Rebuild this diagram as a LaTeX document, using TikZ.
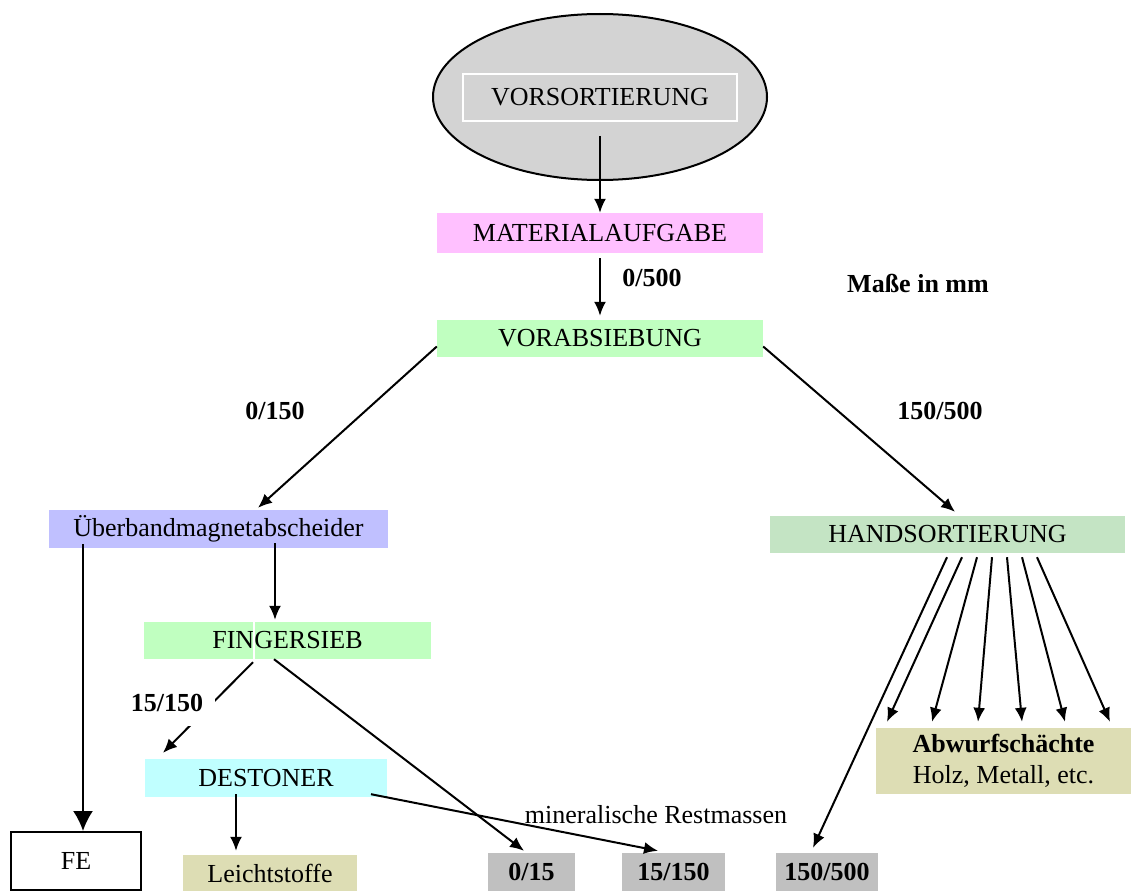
\documentclass[tikz,border=0pt]{standalone}
\usepackage{fontspec}
\setmainfont{Liberation Serif}
\usetikzlibrary{arrows.meta, shapes.geometric}
\definecolor{ovalgray}{RGB}{211,211,211}
\definecolor{matpink}{RGB}{255,192,255}
\definecolor{siebgreen}{RGB}{192,255,192}
\definecolor{magblue}{RGB}{192,192,255}
\definecolor{handgreen}{RGB}{196,228,196}
\definecolor{destcyan}{RGB}{192,255,255}
\definecolor{khaki}{RGB}{221,221,180}
\definecolor{fracgray}{RGB}{192,192,192}

\begin{document}
\begin{tikzpicture}[
    x=1pt, y=-1pt,
    every node/.style={font=\fontsize{26}{31}\selectfont},
    % Styles
    stage/.style={% For the coloured process boxes
        rectangle,
        inner sep=0pt,
        minimum height=37pt,
        },
    fraction/.style={% For the grey output fractions
        rectangle,
        fill=fracgray,
        inner sep=0pt,
        minimum height=38pt,
        font=\fontsize{26}{31}\selectfont\bfseries,
        },
    size/.style={% For the grain size labels
        inner sep=0pt,
        font=\fontsize{26}{31}\selectfont\bfseries,
        },
    ArrowS/.style={% Small arrows
        line width=2pt,
        -{Latex[length=14pt, width=12pt]},
        },
    ArrowB/.style={% Big arrows
        line width=2pt,
        -{Latex[length=20pt, width=20pt]},
        },
    ]
    \useasboundingbox (0,0) rectangle (1131,891);

    % Pre-sorting oval
    \node [ellipse, draw, line width=2pt, fill=ovalgray, minimum width=334pt, minimum height=166pt, inner sep=0pt] (vors) at (600,97) {};
    \node [stage, draw=white, line width=1.5pt, fill=ovalgray, minimum width=274pt, minimum height=47pt] (vorsbox) at (600,97.5) {VORSORTIERUNG};

    % Main line
    \node [stage, fill=matpink, minimum width=326pt, minimum height=40pt] (mat) at (600,233) {MATERIALAUFGABE};
    \node [stage, fill=siebgreen, minimum width=326pt] (vorab) at (600,338.5) {VORABSIEBUNG};

    % Left branch
    \node [stage, fill=magblue, minimum width=339pt, minimum height=38pt] (ueber) at (218.5,529) {Überbandmagnetabscheider};
    \node [stage, fill=siebgreen, minimum width=287pt] (finger) at (287.5,640.5) {FINGERSIEB};
    \node [stage, fill=destcyan, minimum width=242pt, minimum height=38pt] (dest) at (266,778) {DESTONER};

    % Right branch
    \node [stage, fill=handgreen, minimum width=355pt] (hand) at (947.5,534.5) {HANDSORTIERUNG};
    \node [stage, fill=khaki, minimum width=255pt, minimum height=66pt, align=center] (abw) at (1003.5,761) {\textbf{Abwurfschächte}\\Holz, Metall, etc.};

    % Outputs
    \node [stage, draw, line width=2pt, minimum width=130pt, minimum height=58pt] (fe) at (76,861) {FE};
    \node [stage, fill=khaki, minimum width=174pt, minimum height=36pt] (leicht) at (270,873) {Leichtstoffe};
    \node [fraction, minimum width=87pt] (f015) at (531.5,872) {0/15};
    \node [fraction, minimum width=103pt] (f15150) at (673.5,872) {15/150};
    \node [fraction, minimum width=102pt] (f150500) at (827,872) {150/500};

    % Labels
    \node [size] (l0500) at (652,278) {0/500};
    \node [size] (lmass) at (918,283) {Maße in mm};
    \node [size] (l0150) at (275,411) {0/150};
    \node [size] (l150500) at (940,411) {150/500};
    \node [inner sep=0pt] (lmin) at (656,815) {mineralische Restmassen};

    % Arrows
    \draw [ArrowS] ([yshift=-14pt]vorsbox.south) -- (mat.north);
    \draw [ArrowS] ([yshift=-5pt]mat.south) -- ([yshift=4pt]vorab.north);
    \draw [ArrowS] ([yshift=-8pt]vorab.west) -- ([xshift=39.5pt, yshift=2pt]ueber.north);
    \draw [ArrowS] ([yshift=-8pt]vorab.east) -- ([xshift=7.5pt, yshift=4pt]hand.north);

    % magnet separator
    \draw [ArrowB] ([xshift=-135.5pt, yshift=4pt]ueber.south) -- ([xshift=7pt]fe.north);
    \draw [ArrowS] ([xshift=56.5pt, yshift=5pt]ueber.south) -- ([xshift=-12.5pt, yshift=2pt]finger.north);

    % finger screen
    \draw [white, line width=1.5pt] ([xshift=-33.5pt]finger.north) -- ([xshift=-33.5pt]finger.south);
    \draw [ArrowS] ([xshift=-34.5pt, yshift=-3pt]finger.south) -- ([xshift=-103pt, yshift=6pt]dest.north);
    \node [size, fill=white, minimum width=96pt, minimum height=46pt] (l15150) at (167,703) {15/150};
    \draw [ArrowS] ([xshift=-13.5pt]finger.south) -- ([xshift=-7.5pt, yshift=2pt]f015.north);

    % destoner
    \draw [ArrowS] ([xshift=-30pt, yshift=3pt]dest.south) -- ([xshift=-34pt, yshift=4pt]leicht.north);
    \draw [ArrowS] ([xshift=105pt, yshift=3pt]dest.south) -- ([xshift=-15.5pt, yshift=2pt]f15150.north);

    % hand sorting
    \draw [ArrowS] ([xshift=-0.5pt, yshift=-4pt]hand.south) -- ([xshift=-14pt, yshift=5pt]f150500.north);
    \foreach \s/\e in {14.5/-116.5, 29.5/-71.5, 44.5/-25.5, 59.5/18.5, 74.5/61.5, 89.5/106.5}
        \draw [ArrowS] ([xshift=\s pt, yshift=-4pt]hand.south) -- ([xshift=\e pt, yshift=6pt]abw.north);

\end{tikzpicture}
\end{document}
